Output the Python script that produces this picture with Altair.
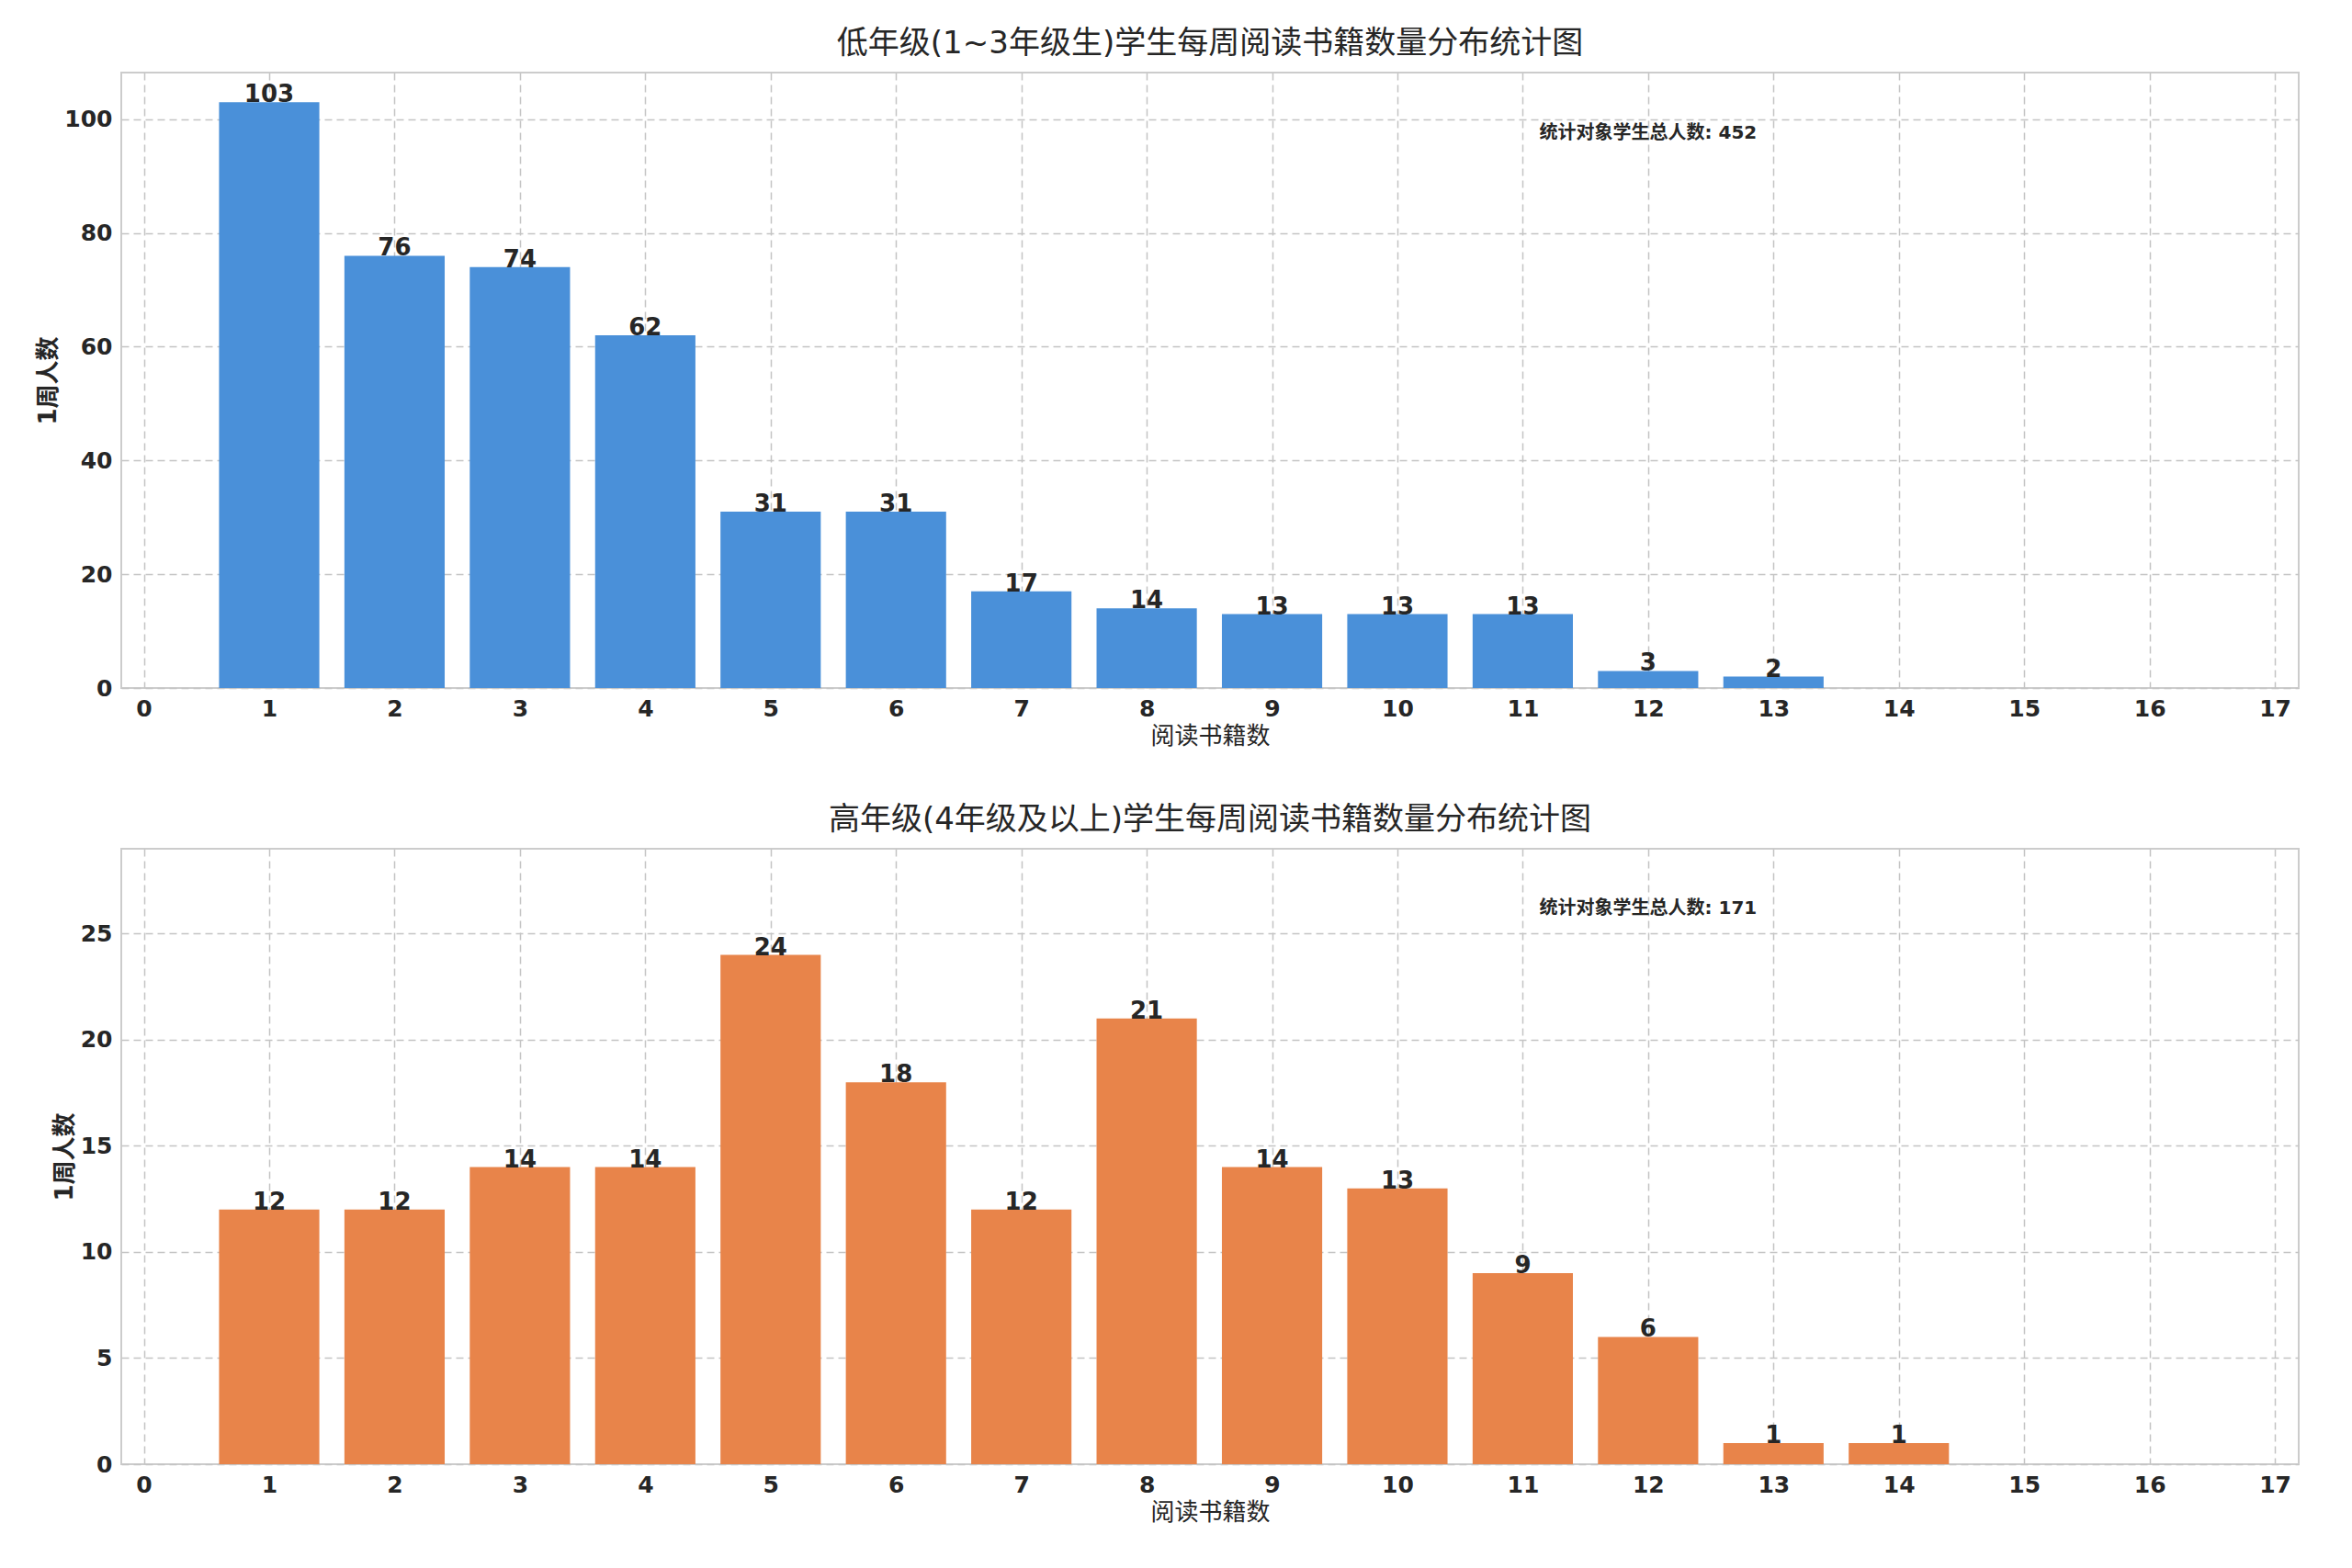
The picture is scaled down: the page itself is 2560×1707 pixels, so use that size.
import altair as alt
import pandas as pd

x_vals = list(range(1, 15))
top_counts = [103, 76, 74, 62, 31, 31, 17, 14, 13, 13, 13, 3, 2, 0]
bot_counts = [12, 12, 14, 14, 24, 18, 12, 21, 14, 13, 9, 6, 1, 1]
top_title = "低年级(1~3年级生)学生每周阅读书籍数量分布统计图"
bot_title = "高年级(4年级及以上)学生每周阅读书籍数量分布统计图"
top_note = "统计对象学生总人数: 452"
bot_note = "统计对象学生总人数: 171"
x_label = "阅读书籍数"
y_label = "1周人数"

FONT = "DejaVu Sans, Noto Sans CJK SC"

def panel(counts, color, title, note, ymax, ynote, yticks):
    df = pd.DataFrame({"x": x_vals, "y": counts})
    df = df[df.y > 0].copy()
    df["x0"] = df.x - 0.4
    df["x1"] = df.x + 0.4
    xs = alt.Scale(domain=[-0.18, 17.19], nice=False, zero=False)
    ys = alt.Scale(domain=[0, ymax], nice=False)
    common = dict(grid=True, gridDash=[8, 5], gridColor="#c4c4c4", gridWidth=1.5,
                  labelFontSize=25, labelFontWeight="bold", titleFontSize=26,
                  labelColor="#262626", titleColor="#262626", domain=False, ticks=False,
                  labelPadding=10)
    xax = alt.Axis(values=list(range(0, 18)), title=x_label, titleFontWeight="normal",
                   format="d", **common)
    yax = alt.Axis(values=yticks, title=y_label, titleFontWeight="bold", **common)
    bars = alt.Chart(df).mark_rect(color=color).encode(
        x=alt.X("x0:Q", scale=xs, axis=xax), x2="x1", y=alt.Y("y:Q", scale=ys, axis=yax))
    labels = alt.Chart(df).mark_text(fontSize=26, fontWeight="bold", color="#262626",
                                     baseline="middle", dy=-8).encode(
        x=alt.X("x:Q", scale=xs), y=alt.Y("y:Q", scale=ys), text="y:Q")
    ndf = pd.DataFrame({"x": [12], "y": [ynote], "t": [note]})
    nt = alt.Chart(ndf).mark_text(fontSize=20, fontWeight="bold", color="#262626",
                                  align="center").encode(
        x=alt.X("x:Q", scale=xs), y=alt.Y("y:Q", scale=ys), text="t:N")
    return alt.layer(bars, labels, nt).properties(
        width=2370, height=670,
        title=alt.TitleParams(title, fontSize=34, fontWeight="normal", color="#262626", offset=14))

top = panel(top_counts, "#4a90d9", top_title, top_note, 108.2, 97.5, [0, 20, 40, 60, 80, 100])
bot = panel(bot_counts, "#e8844a", bot_title, bot_note, 29, 26.2, [0, 5, 10, 15, 20, 25])

chart = alt.vconcat(top, bot, spacing=60, background="white",
                    padding={"left": 30, "top": 22, "right": 5, "bottom": 5}).configure(font=FONT).configure_view(
    stroke="#cccccc", strokeWidth=2)
chart.save("out.html", embed_options={"renderer": "svg", "actions": False})
